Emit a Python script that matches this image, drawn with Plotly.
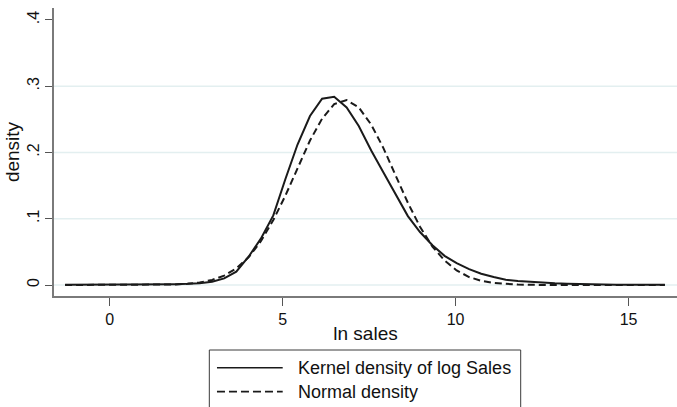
import plotly.graph_objects as go

# ---- data ----
grid_x = [-1.29, -0.94, -0.58, -0.23, 0.13, 0.48, 0.83, 1.19, 1.54, 1.90,
          2.25, 2.60, 2.96, 3.31, 3.66, 4.02, 4.37, 4.73, 5.08, 5.43,
          5.79, 6.14, 6.49, 6.85, 7.20, 7.56, 7.91, 8.26, 8.62, 8.97,
          9.33, 9.68, 10.03, 10.39, 10.74, 11.10, 11.45, 11.80, 12.16, 12.51,
          12.87, 13.22, 13.57, 13.93, 14.28, 14.64, 14.99, 15.34, 15.70, 16.05]

kernel_y = [0.0002, 0.0002, 0.0003, 0.0003, 0.0004, 0.0004, 0.0005, 0.0006, 0.0009, 0.0013,
            0.0018, 0.0028, 0.0050, 0.0100, 0.0200, 0.0430, 0.0700, 0.1050, 0.1600, 0.2120,
            0.2550, 0.2810, 0.2840, 0.2680, 0.2400, 0.2030, 0.1700, 0.1370, 0.1040, 0.0800,
            0.0600, 0.0440, 0.0330, 0.0240, 0.0170, 0.0120, 0.0080, 0.0060, 0.0045, 0.0035,
            0.0025, 0.0018, 0.0012, 0.0008, 0.0006, 0.0005, 0.0004, 0.0003, 0.0003, 0.0002]

normal_y = [0.0, 0.0, 0.0, 0.0, 0.0, 0.0, 0.0, 0.0001, 0.0003, 0.0008,
            0.0018, 0.0037, 0.0076, 0.0142, 0.0250, 0.0420, 0.0660, 0.0980, 0.1350, 0.1760,
            0.2180, 0.2510, 0.2730, 0.2790, 0.2680, 0.2420, 0.2070, 0.1660, 0.1240, 0.0880,
            0.0580, 0.0370, 0.0220, 0.0120, 0.0063, 0.0030, 0.0014, 0.0006, 0.0002, 0.0001,
            0.0, 0.0, 0.0, 0.0, 0.0, 0.0, 0.0, 0.0, 0.0, 0.0]

x_ticks = [0, 5, 10, 15]
x_tick_text = ["0", "5", "10", "15"]
y_ticks = [0, 0.1, 0.2, 0.3, 0.4]
y_tick_text = ["0", ".1", ".2", ".3", ".4"]
grid_values = [0, 0.1, 0.2, 0.3]

series_names = ["Kernel density of log Sales", "Normal density"]
x_title = "ln sales"
y_title = "density"

FONT = "Liberation Sans, Arial, Helvetica, sans-serif"
INK = "#1a1a1a"

fig = go.Figure()

# gridlines (below data)
for g in grid_values:
    fig.add_shape(type="line", xref="paper", yref="y", x0=0, x1=1, y0=g, y1=g,
                  line=dict(color="#e3eff0", width=1.5), layer="below")

fig.add_trace(go.Scatter(x=grid_x, y=kernel_y, mode="lines", name=series_names[0],
                         line=dict(color=INK, width=2), showlegend=False))
fig.add_trace(go.Scatter(x=grid_x, y=normal_y, mode="lines", name=series_names[1],
                         line=dict(color=INK, width=2, dash="7px,4px"), showlegend=False))

# ---- manual legend box (Stata style) ----
fig.add_shape(type="rect", xref="paper", yref="paper",
              x0=0.2493, x1=0.7491, y0=-0.40, y1=-0.1875,
              line=dict(color="#3a3a3a", width=1), fillcolor="white")
rows_y = [-0.249, -0.332]
dashes = ["solid", "8px,4px"]
for name, ry, d in zip(series_names, rows_y, dashes):
    fig.add_shape(type="line", xref="paper", yref="paper",
                  x0=0.2616, x1=0.3671, y0=ry, y1=ry,
                  line=dict(color=INK, width=1.6, dash=d))
    fig.add_annotation(xref="paper", yref="paper", x=0.3884, y=ry, text=name,
                       showarrow=False, xanchor="left", yanchor="middle",
                       font=dict(family=FONT, size=18, color="#111111"))

fig.update_layout(
    width=677, height=407,
    margin=dict(l=54, r=0, t=8, b=111),
    paper_bgcolor="white", plot_bgcolor="white",
    font=dict(family=FONT, color="#111111"),
    showlegend=False,
)

fig.update_xaxes(
    range=[-1.61, 16.40],
    tickvals=x_ticks, ticktext=x_tick_text,
    showgrid=False, zeroline=False,
    showline=True, linecolor="#7a7a7a", linewidth=1.5,
    ticks="outside", ticklen=8, tickcolor="#555555", tickwidth=1,
    tickfont=dict(size=16),
    title=dict(text=x_title, font=dict(size=19), standoff=0),
)
fig.update_yaxes(
    range=[-0.0166, 0.418],
    tickvals=y_ticks, ticktext=y_tick_text,
    tickangle=-90,
    showgrid=False, zeroline=False,
    showline=True, linecolor="#7a7a7a", linewidth=1.5,
    ticks="outside", ticklen=7, tickcolor="#555555", tickwidth=1,
    tickfont=dict(size=16),
    title=dict(text=y_title, font=dict(size=19), standoff=0),
)

fig.write_html("out.html")
